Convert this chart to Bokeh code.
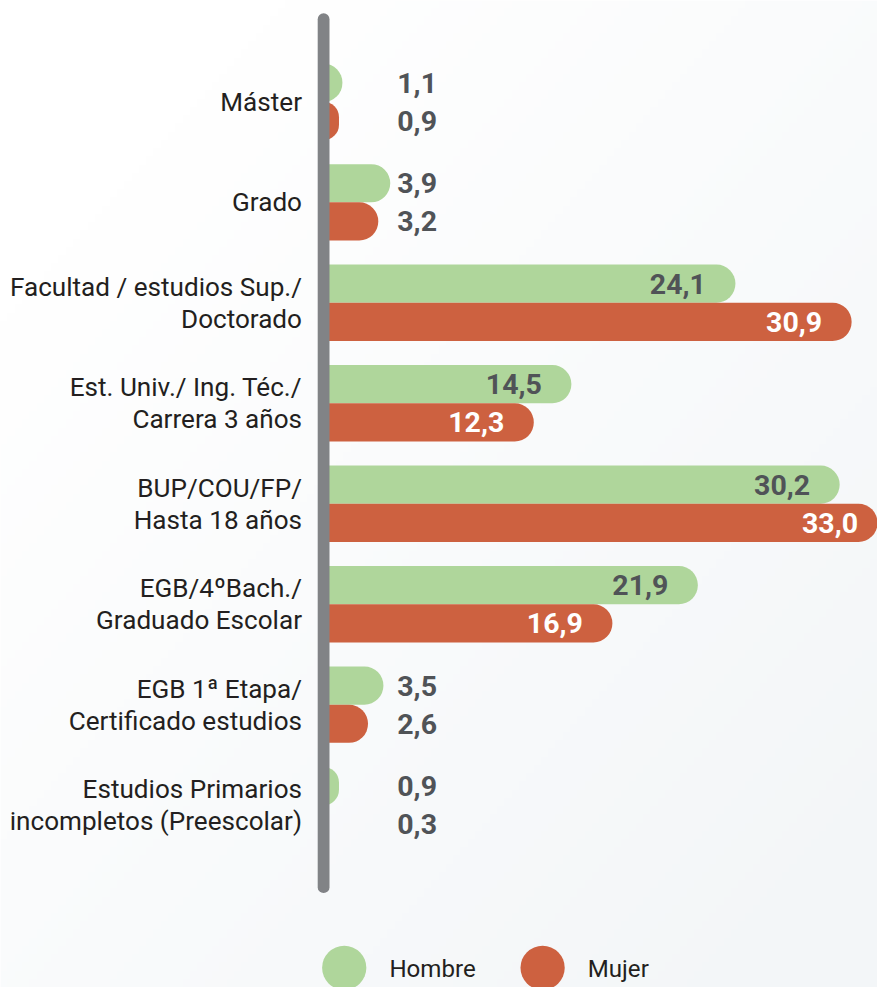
import numpy as np
from bokeh.plotting import figure
from bokeh.models import ColumnDataSource, Range1d
from bokeh.core.properties import value
from bokeh.embed import file_html
from bokeh.resources import INLINE

# ---------------- data ----------------
categories = [
    "Máster",
    "Grado",
    "Facultad / estudios Sup./\nDoctorado",
    "Est. Univ./ Ing. Téc./\nCarrera 3 años",
    "BUP/COU/FP/\nHasta 18 años",
    "EGB/4ºBach./\nGraduado Escolar",
    "EGB 1ª Etapa/\nCertificado estudios",
    "Estudios Primarios\nincompletos (Preescolar)",
]
hombre = [1.1, 3.9, 24.1, 14.5, 30.2, 21.9, 3.5, 0.9]
mujer = [0.9, 3.2, 30.9, 12.3, 33.0, 16.9, 2.6, 0.3]
series_names = ["Hombre", "Mujer"]
series_colors = ["#afd69b", "#cd6140"]
inside_label_colors = ["#505357", "#ffffff"]

# ---------------- layout (reference-image pixels) ----------------
REF_W, REF_H = 893, 1003
W, H = 877, 987
S = (W / REF_W + H / REF_H) / 2      # screen-unit scale

ZERO_REF = 329          # x of value 0
UNIT_REF = 17.4         # px per unit of value
GROUP0_REF = 103        # y of first category
GROUP_STEP_REF = 102.1  # px between categories
BAR_REF = 38.8          # bar thickness


def px_to_x(px):
    return (px - ZERO_REF) / UNIT_REF


def px_to_y(py):
    return (py - GROUP0_REF) / GROUP_STEP_REF


x_range = Range1d(px_to_x(0), px_to_x(REF_W))
y_range = Range1d(px_to_y(REF_H), px_to_y(0))

p = figure(width=W, height=H, x_range=x_range, y_range=y_range,
           output_backend="svg", toolbar_location=None, min_border=0,
           x_axis_location=None, y_axis_location=None)
p.grid.visible = False
p.outline_line_color = None
p.background_fill_color = "white"
p.border_fill_color = "white"

# subtle diagonal background gradient
ny, nx = 120, 120
gx, gy = np.meshgrid(np.linspace(0, 1, nx), np.linspace(0, 1, ny))
t = np.clip((gx + gy) / 2.0 * 1.25 - 0.2, 0, 1)
img = np.empty((ny, nx), dtype=np.uint32)
view = img.view(dtype=np.uint8).reshape((ny, nx, 4))
view[..., 0] = (255 - 12 * t).astype(np.uint8)
view[..., 1] = (255 - 9 * t).astype(np.uint8)
view[..., 2] = (255 - 7 * t).astype(np.uint8)
view[..., 3] = 255
p.image_rgba(image=[img], x=px_to_x(0), y=px_to_y(0),
             dw=px_to_x(REF_W) - px_to_x(0), dh=px_to_y(REF_H) - px_to_y(0))

rows = np.arange(len(categories))
half = BAR_REF / 2 / GROUP_STEP_REF
bar_h = BAR_REF / GROUP_STEP_REF
radius = 19

series = [hombre, mujer]
offsets = [-half, half]

for vals, color, dy in zip(series, series_colors, offsets):
    src = ColumnDataSource(dict(y=rows + dy, right=vals))
    p.hbar(y="y", left=0, right="right", height=bar_h, source=src,
           fill_color=color, line_color=None,
           border_radius=(0, radius, radius, 0))

# vertical axis bar
p.segment(x0=[0], x1=[0], y0=[px_to_y(19)], y1=[px_to_y(901)],
          line_width=12 * S, line_color="#818386", line_cap="round")

# value labels
OUT_X = px_to_x(404)
INSIDE_MIN = 10
VAL_FONT = f"{29 * S:.1f}px"
fmt = lambda v: f"{v:.1f}".replace(".", ",")
for vals, dy, in_color in zip(series, offsets, inside_label_colors):
    ins = [i for i, v in enumerate(vals) if v >= INSIDE_MIN]
    outs = [i for i, v in enumerate(vals) if v < INSIDE_MIN]
    p.text(x=[vals[i] for i in ins], y=[rows[i] + dy for i in ins],
           text=[fmt(vals[i]) for i in ins], x_offset=-30 * S,
           text_align="right", text_baseline="middle",
           text_font=value("Roboto"), text_font_style="bold",
           text_font_size=VAL_FONT, text_color=in_color)
    p.text(x=[OUT_X] * len(outs), y=[rows[i] + dy for i in outs],
           text=[fmt(vals[i]) for i in outs],
           text_align="left", text_baseline="middle",
           text_font=value("Roboto"), text_font_style="bold",
           text_font_size=VAL_FONT, text_color="#505357")

# category labels
p.text(x=[0] * len(categories), y=rows, text=categories, x_offset=-22 * S,
       text_align="right", text_baseline="middle",
       text_font=value("Roboto"), text_font_size=f"{26.5 * S:.1f}px",
       text_color="#231f20", text_line_height=1.07)

# legend
leg_y = px_to_y(983)
leg_x = [px_to_x(350), px_to_x(552)]
leg_tx = [px_to_x(396), px_to_x(598)]
p.scatter(x=leg_x, y=[leg_y] * 2, size=45 * S, marker="circle",
          fill_color=series_colors, line_color=None)
p.text(x=leg_tx, y=[px_to_y(984)] * 2, text=series_names,
       text_align="left", text_baseline="middle",
       text_font=value("Roboto"), text_font_size=f"{24.5 * S:.1f}px",
       text_color="#231f20")

open("out.html", "w").write(file_html(p, INLINE))
